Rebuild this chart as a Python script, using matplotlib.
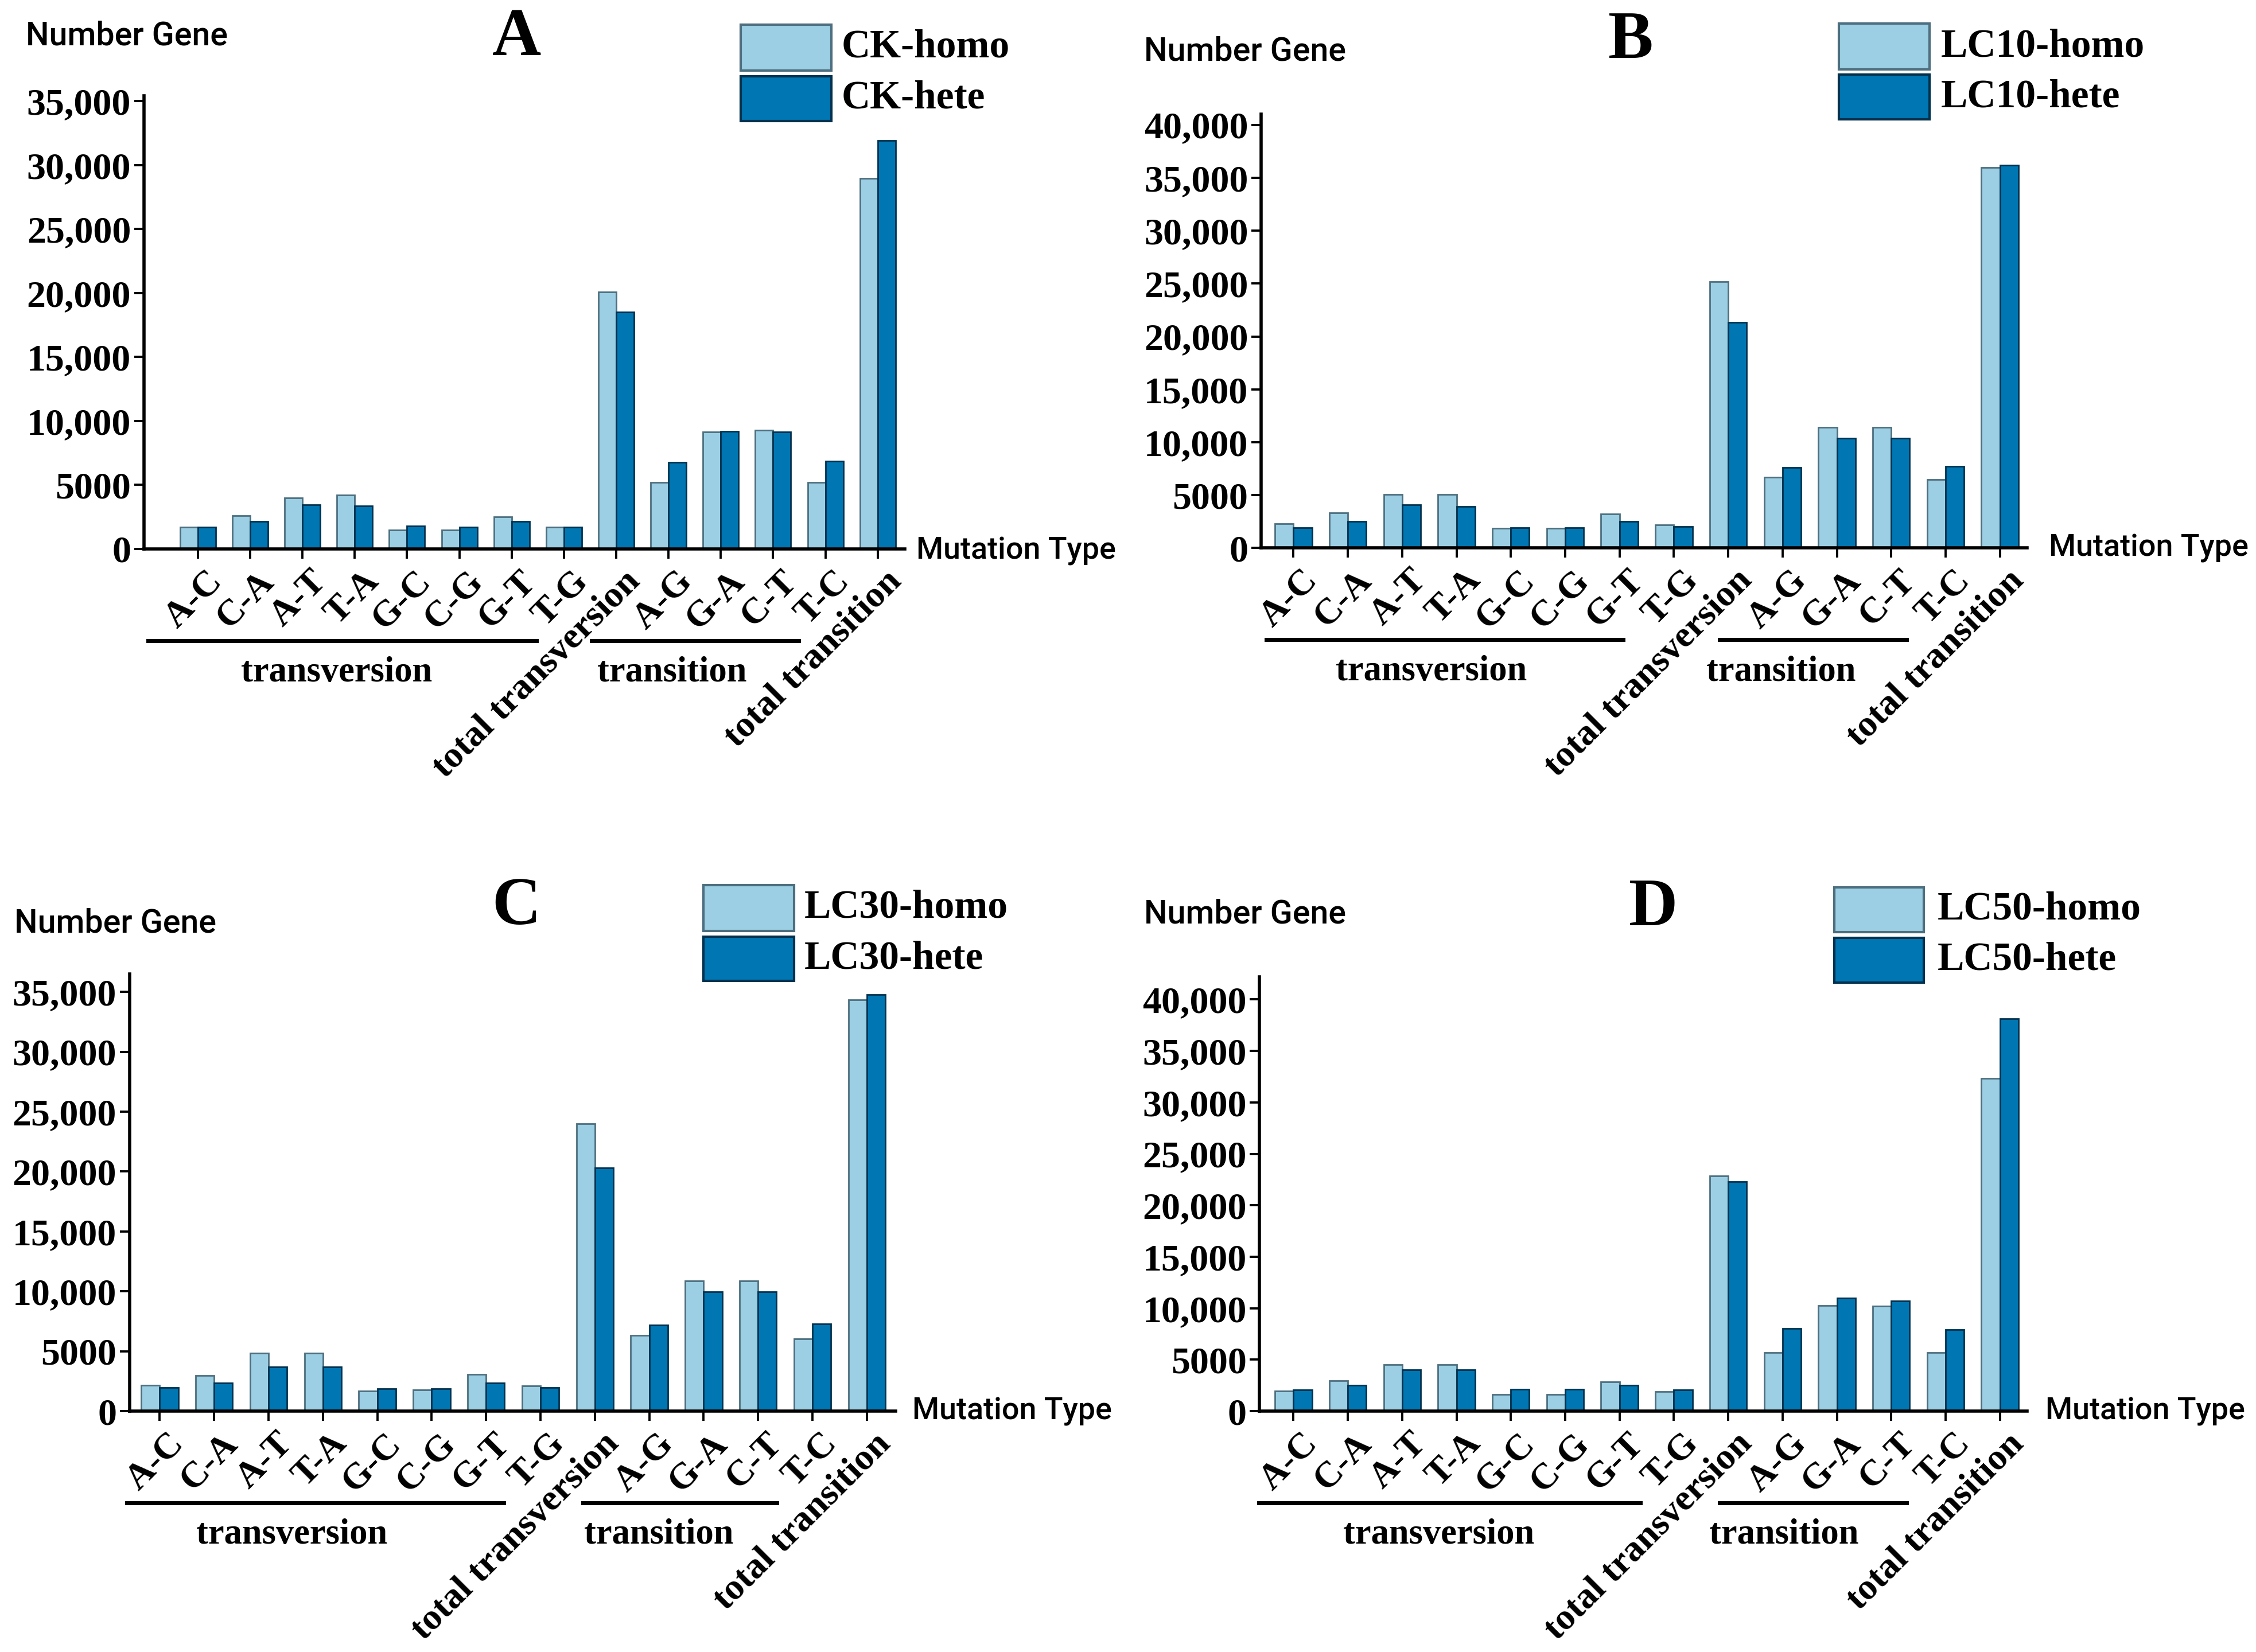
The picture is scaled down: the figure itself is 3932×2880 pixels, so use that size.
import matplotlib.pyplot as plt
from matplotlib.lines import Line2D
from matplotlib.patches import Rectangle
from matplotlib.ticker import FuncFormatter, MultipleLocator
from matplotlib.transforms import ScaledTranslation

# mutation categories on the x axis
mutation_types = ['A-C', 'C-A', 'A-T', 'T-A', 'G-C', 'C-G', 'G-T', 'T-G',
                  'total transversion', 'A-G', 'G-A', 'C-T', 'T-C', 'total transition']

# values (homozygous / heterozygous)
ck_homo = [1700, 2600, 4000, 4200, 1500, 1500, 2500, 1700, 20100, 5200, 9150, 9300, 5200, 28950]
ck_hete = [1700, 2150, 3450, 3350, 1800, 1700, 2150, 1700, 18500, 6750, 9200, 9150, 6850, 31900]

lc10_homo = [2300, 3350, 5050, 5050, 1850, 1850, 3200, 2200, 25200, 6700, 11400, 11400, 6450, 35950]
lc10_hete = [1950, 2500, 4100, 3950, 1950, 1950, 2500, 2050, 21350, 7600, 10400, 10400, 7700, 36200]

lc30_homo = [2150, 3000, 4850, 4850, 1700, 1780, 3050, 2100, 24000, 6350, 10900, 10900, 6050, 34350]
lc30_hete = [1950, 2350, 3700, 3700, 1900, 1900, 2350, 1950, 20300, 7200, 9950, 9950, 7300, 34750]

lc50_homo = [1950, 2950, 4550, 4550, 1600, 1600, 2850, 1900, 22850, 5700, 10250, 10200, 5700, 32300]
lc50_hete = [2050, 2500, 4050, 4050, 2150, 2100, 2500, 2050, 22300, 8050, 11000, 10700, 7950, 38100]

panel_letters = ['A', 'B', 'C', 'D']
homo_names = ['CK-homo', 'LC10-homo', 'LC30-homo', 'LC50-homo']
hete_names = ['CK-hete', 'LC10-hete', 'LC30-hete', 'LC50-hete']
homo_data = [ck_homo, lc10_homo, lc30_homo, lc50_homo]
hete_data = [ck_hete, lc10_hete, lc30_hete, lc50_hete]
y_max = [35400, 41000, 36500, 42200]

LIGHT = '#9ccfe3'
DARK = '#0076b2'
LIGHT_EDGE = '#4d6f7f'
DARK_EDGE = '#00324f'

SERIF = 'Liberation Serif'
SANS = 'Roboto'

# layout measured on a 1568 x 1148 view of the picture
W = 1568.0
H = 1148.4
layout = [
    # axis x, baseline y, axis top y, axis right x, first group x, last group x
    dict(ax=100, base=381.6, top=66.7, right=629, first=137.5, last=610,
         ng=(18, 25), letter=(359, 27), box_x=(515, 578), box1=(17, 49), box2=(53, 84),
         text_x=585, mt=(637, 383), tv=(103, 373), ts=(411, 555), tv_c=234, ts_c=467),
    dict(ax=876.5, base=381, top=79.4, right=1409, first=899, last=1390,
         ng=(795, 36), letter=(1133, 29), box_x=(1278, 1341), box1=(16.5, 48.4), box2=(52, 83),
         text_x=1349, mt=(1424, 381), tv=(880, 1128), ts=(1195, 1325), tv_c=995, ts_c=1238),
    dict(ax=90, base=981, top=677, right=622.5, first=111, last=602.5,
         ng=(10, 642), letter=(359, 631), box_x=(489, 552), box1=(615.4, 647), box2=(651, 682),
         text_x=559, mt=(634, 981), tv=(88, 350), ts=(405, 540), tv_c=203, ts_c=458),
    dict(ax=875.4, base=981, top=679, right=1409, first=899, last=1390,
         ng=(795, 635.5), letter=(1149, 632), box_x=(1275, 1337), box1=(616.7, 648), box2=(652, 683),
         text_x=1346.5, mt=(1421.5, 981), tv=(875, 1140), ts=(1195, 1325), tv_c=1000, ts_c=1240),
]


def fx(x):
    return x / W


def fy(y):
    return 1 - y / H


def tick_text(v, pos):
    if v >= 10000:
        return f'{v:,.0f}'
    return f'{v:.0f}'


fig = plt.figure(figsize=(3932 / 250, 2880 / 250), dpi=250)

for k in range(4):
    L = layout[k]
    ax = fig.add_axes([fx(L['ax']), fy(L['base']),
                       (L['right'] - L['ax']) / W, (L['base'] - L['top']) / H])

    n = len(mutation_types)
    step = (L['last'] - L['first']) / (n - 1)
    xs = list(range(n))
    bw = 0.34
    ax.bar([x - bw / 2 for x in xs], homo_data[k], width=bw, color=LIGHT,
           edgecolor=LIGHT_EDGE, linewidth=0.8)
    ax.bar([x + bw / 2 for x in xs], hete_data[k], width=bw, color=DARK,
           edgecolor=DARK_EDGE, linewidth=0.8)

    ax.set_xlim(-(L['first'] - L['ax']) / step, (n - 1) + (L['right'] - L['last']) / step)
    ax.set_ylim(0, y_max[k])
    ax.yaxis.set_major_locator(MultipleLocator(5000))
    ax.yaxis.set_major_formatter(FuncFormatter(tick_text))

    for side in ['top', 'right']:
        ax.spines[side].set_visible(False)
    for side in ['left', 'bottom']:
        ax.spines[side].set_linewidth(1.6)

    ax.tick_params(axis='y', length=5, width=1.1, pad=1.5, labelsize=19)
    ax.tick_params(axis='x', length=5, width=1.1, labelbottom=False)
    ax.set_xticks(xs)
    for lab in ax.get_yticklabels():
        lab.set_fontfamily(SERIF)
        lab.set_fontweight('bold')

    # rotated category labels
    shift = ScaledTranslation(0.05, -0.11, fig.dpi_scale_trans)
    for i, name in enumerate(mutation_types):
        ax.text(i, 0, name, transform=ax.get_xaxis_transform() + shift,
                rotation=45, rotation_mode='anchor', ha='right', va='top',
                fontsize=18.5, fontfamily=SERIF, fontweight='bold')

    # group brackets under the labels
    line_y = fy(L['base'] + 63.8)
    text_y = fy(L['base'] + 86)
    for (x0, x1), cx, word in [(L['tv'], L['tv_c'], 'transversion'),
                               (L['ts'], L['ts_c'], 'transition')]:
        fig.add_artist(Line2D([fx(x0), fx(x1)], [line_y, line_y],
                              transform=fig.transFigure, color='black', linewidth=2.0))
        fig.text(fx(cx), text_y, word, ha='center', va='center',
                 fontsize=18, fontfamily=SERIF, fontweight='bold')

    # axis titles
    fig.text(fx(L['ng'][0]), fy(L['ng'][1]), 'Number Gene', ha='left', va='center',
             fontsize=16.5, fontfamily=SANS, fontweight='medium')
    fig.text(fx(L['mt'][0]), fy(L['mt'][1]), 'Mutation Type', ha='left', va='center',
             fontsize=15.5, fontfamily=SANS, fontweight='medium')

    # panel letter
    fig.text(fx(L['letter'][0]), fy(L['letter'][1]), panel_letters[k], ha='center', va='center',
             fontsize=34, fontfamily=SERIF, fontweight='bold')

    # hand made legend
    x0, x1 = L['box_x']
    for (y0, y1), color, edge, name in [(L['box1'], LIGHT, LIGHT_EDGE, homo_names[k]),
                                        (L['box2'], DARK, DARK_EDGE, hete_names[k])]:
        fig.add_artist(Rectangle((fx(x0), fy(y1)), (x1 - x0) / W, (y1 - y0) / H,
                                 transform=fig.transFigure, facecolor=color,
                                 edgecolor=edge, linewidth=1.2))
        fig.text(fx(L['text_x']), fy((y0 + y1) / 2), name, ha='left', va='center',
                 fontsize=20, fontfamily=SERIF, fontweight='bold')

fig.savefig('out.png', dpi=250)
